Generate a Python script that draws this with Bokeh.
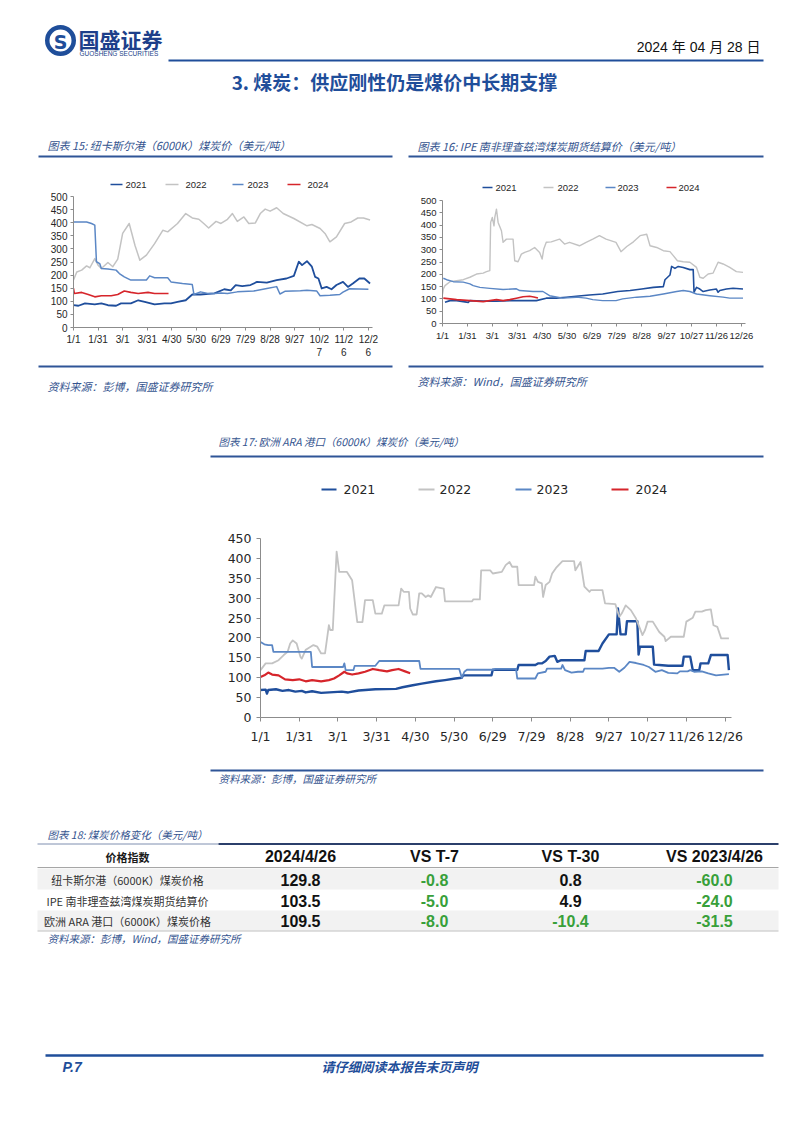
from bokeh.plotting import figure
from bokeh.layouts import column, row
from bokeh.models import Range1d, FixedTicker
from bokeh.core.properties import value
from bokeh.embed import file_html
from bokeh.resources import INLINE

# ---------------- data ----------------
years = ["2021", "2022", "2023", "2024"]
tick_days = [0, 30, 60, 90, 120, 150, 180, 210, 240, 270, 300, 330, 360]
tick_labels = ["1/1", "1/31", "3/1", "3/31", "4/30", "5/30", "6/29", "7/29",
               "8/28", "9/27", "10/27", "11/26", "12/26"]
tick_labels_wrapped = ["1/1", "1/31", "3/1", "3/31", "4/30", "5/30", "6/29", "7/29",
                       "8/28", "9/27", "10/2\n7", "11/2\n6", "12/2\n6"]

# Chart 15: Newcastle (6000K)
nc_days_2021 = [0, 6, 14, 26, 34, 42, 52, 58, 70, 79, 87, 99, 111, 119, 127, 137, 145, 155, 172, 184,
                192, 198, 206, 216, 224, 236, 248, 260, 269, 275, 279, 285, 291, 295, 299, 303, 309, 315,
                321, 329, 335, 341, 349, 355, 362]
nc_vals_2021 = [85, 83, 92, 88, 92, 85, 83, 92, 92, 104, 98, 88, 92, 92, 98, 104, 126, 126, 130, 146,
                142, 162, 158, 162, 174, 171, 181, 187, 197, 251, 238, 253, 232, 193, 187, 149, 155, 146,
                162, 174, 155, 168, 187, 187, 168]
nc_days_2022 = [0, 4, 10, 16, 20, 26, 30, 34, 42, 48, 54, 60, 68, 75, 81, 89, 99, 109, 115, 127,
                137, 145, 153, 159, 165, 174, 180, 188, 194, 200, 208, 214, 222, 228, 234, 240, 248, 256,
                269, 285, 291, 301, 307, 313, 321, 331, 339, 347, 354, 362]
nc_vals_2022 = [181, 212, 219, 235, 228, 263, 238, 225, 248, 232, 261, 359, 397, 314, 257, 276, 320, 371, 365, 397,
                435, 418, 413, 397, 380, 405, 397, 413, 435, 405, 422, 397, 399, 435, 452, 444, 457, 435,
                416, 388, 393, 378, 359, 327, 346, 397, 403, 418, 418, 410]
nc_days_2023 = [0, 16, 22, 26, 28, 32, 34, 42, 52, 56, 62, 70, 89, 93, 99, 115, 119, 133, 145, 147,
                155, 164, 172, 180, 188, 200, 220, 236, 248, 252, 258, 277, 285, 297, 301, 313, 325, 329, 337, 360]
nc_vals_2023 = [403, 403, 397, 391, 251, 244, 225, 223, 219, 206, 193, 181, 181, 197, 190, 190, 174, 168, 164, 126,
                136, 130, 130, 132, 130, 136, 139, 149, 156, 128, 138, 140, 142, 139, 121, 123, 126, 135, 148, 146]
nc_days_2024 = [0, 1, 10, 18, 26, 34, 46, 54, 62, 70, 79, 91, 99, 116]
nc_vals_2024 = [149, 130, 134, 126, 117, 121, 121, 126, 139, 134, 130, 134, 130, 130]

# Chart 16: IPE Richards Bay futures
ipe_days_2021 = [3, 9, 17, 31, 33, 49, 65, 81, 97, 113, 125, 137, 149, 161, 177, 193, 211, 226, 240, 254,
                 266, 268, 274, 276, 280, 284, 290, 298, 302, 303, 306, 310, 314, 322, 330, 332, 334, 342, 350, 362]
ipe_vals_2021 = [86, 93, 93, 86, 93, 91, 91, 93, 93, 93, 103, 103, 107, 111, 116, 120, 130, 134, 140, 147,
                 150, 178, 197, 232, 224, 232, 228, 219, 219, 127, 147, 140, 130, 136, 140, 127, 134, 140, 143, 140]
ipe_days_2022 = [0, 1, 3, 9, 17, 25, 33, 41, 49, 53, 57, 58, 60, 62, 63, 65, 67, 71, 73, 77, 85,
                 87, 91, 95, 99, 105, 111, 117, 120, 122, 125, 131, 141, 147, 153, 165, 173, 181, 189, 197, 209,
                 215, 222, 230, 238, 246, 250, 258, 266, 274, 278, 283, 290, 298, 306, 310, 314, 320, 326, 332, 338,
                 346, 354, 362]
ipe_vals_2022 = [118, 141, 154, 170, 174, 178, 188, 201, 205, 211, 215, 411, 431, 397, 431, 465, 411, 377, 330, 343, 343,
                 255, 251, 282, 289, 296, 309, 289, 262, 303, 330, 332, 343, 323, 330, 316, 330, 343, 357, 343, 330,
                 292, 313, 332, 357, 363, 316, 309, 296, 292, 276, 255, 251, 249, 228, 188, 184, 201, 205, 249, 242,
                 228, 211, 208]
ipe_days_2023 = [1, 5, 13, 25, 33, 37, 45, 57, 73, 89, 93, 109, 121, 129, 145, 161, 173, 181, 193, 209,
                 217, 234, 250, 266, 282, 290, 298, 306, 322, 338, 346, 362]
ipe_vals_2023 = [184, 178, 170, 168, 161, 154, 147, 143, 138, 141, 134, 130, 130, 113, 103, 107, 103, 97, 93, 93,
                 100, 107, 111, 120, 130, 134, 130, 120, 113, 107, 103, 103]
ipe_days_2024 = [1, 9, 17, 33, 49, 57, 65, 73, 81, 89, 97, 105, 110, 115]
ipe_vals_2024 = [103, 100, 97, 93, 89, 93, 97, 93, 97, 103, 109, 111, 108, 104]

# Chart 17: ARA (6000K)
ara_days_2021 = [0, 4, 5, 6, 12, 17, 22, 27, 32, 35, 40, 47, 63, 68, 76, 89, 105, 110, 118, 125,
                 136, 143, 151, 156, 157, 179, 180, 199, 200, 213, 215, 218, 221, 224, 228, 230, 233, 251, 252, 262,
                 265, 270, 276, 277, 279, 283, 284, 292, 293, 294, 304, 305, 309, 316, 327, 328, 333, 335, 340, 341,
                 347, 349, 362, 363]
ara_vals_2021 = [69, 70, 60, 69, 71, 67, 69, 65, 67, 63, 66, 62, 65, 63, 68, 71, 72, 76, 81, 85,
                 91, 94, 98, 100, 106, 106, 120, 120, 132, 132, 136, 136, 142, 153, 155, 140, 144, 144, 167, 167,
                 186, 209, 209, 274, 209, 209, 242, 242, 158, 178, 178, 133, 132, 130, 130, 153, 153, 119, 119, 136,
                 136, 157, 157, 119]
ara_days_2022 = [0, 4, 9, 14, 18, 21, 23, 25, 28, 31, 32, 35, 37, 41, 44, 47, 50, 53, 54, 56,
                 59, 61, 67, 71, 74, 75, 79, 81, 87, 89, 94, 96, 107, 109, 111, 115, 116, 118, 121, 123,
                 125, 128, 130, 132, 136, 142, 143, 164, 165, 170, 171, 178, 180, 187, 190, 193, 195, 199, 200, 212,
                 213, 215, 218, 219, 221, 224, 226, 229, 234, 243, 244, 248, 251, 255, 256, 265, 267, 275, 278, 280,
                 283, 287, 291, 294, 296, 298, 300, 304, 309, 313, 314, 318, 328, 330, 335, 337, 342, 345, 349, 351,
                 354, 357, 363]
ara_vals_2022 = [119, 136, 136, 144, 157, 165, 186, 194, 186, 152, 148, 170, 174, 182, 178, 161, 161, 232, 220, 220,
                 417, 366, 366, 345, 266, 240, 240, 295, 295, 261, 261, 282, 282, 324, 316, 316, 274, 259, 259, 312,
                 312, 303, 307, 303, 328, 324, 292, 292, 297, 297, 370, 370, 362, 366, 383, 391, 379, 379, 333, 333,
                 354, 341, 337, 303, 333, 341, 362, 376, 393, 393, 370, 391, 329, 316, 320, 320, 287, 285, 253, 262,
                 282, 270, 249, 224, 207, 220, 241, 241, 215, 203, 192, 203, 203, 241, 251, 266, 266, 270, 272, 232,
                 228, 199, 199]
ara_days_2023 = [0, 3, 6, 9, 10, 39, 40, 64, 65, 66, 72, 73, 89, 92, 123, 124, 154, 156, 158, 160,
                 180, 182, 198, 199, 213, 215, 221, 222, 233, 234, 236, 241, 246, 250, 251, 265, 270, 274, 278, 282,
                 286, 291, 297, 301, 306, 311, 316, 323, 325, 331, 333, 336, 342, 347, 353, 363]
ara_vals_2023 = [190, 184, 182, 182, 165, 165, 127, 127, 136, 119, 119, 130, 130, 142, 142, 122, 122, 100, 115, 120,
                 120, 122, 122, 98, 98, 111, 115, 123, 123, 132, 119, 113, 115, 115, 123, 123, 125, 125, 115, 125,
                 140, 137, 132, 127, 115, 119, 112, 111, 116, 116, 119, 115, 116, 111, 106, 109]
ara_days_2024 = [0, 3, 6, 9, 14, 19, 25, 30, 35, 40, 47, 53, 57, 61, 65, 67, 71, 76, 81, 87,
                 92, 98, 102, 107, 112, 116]
ara_vals_2024 = [102, 106, 113, 108, 106, 96, 94, 96, 91, 94, 91, 94, 98, 106, 115, 111, 108, 111, 115, 122,
                 119, 116, 119, 122, 116, 111]

# Table (chart 18)
table_header = ["价格指数", "2024/4/26", "VS T-7", "VS T-30", "VS 2023/4/26"]
table_names = ["纽卡斯尔港（6000K）煤炭价格", "IPE 南非理查兹湾煤炭期货结算价", "欧洲 ARA 港口（6000K）煤炭价格"]
price_latest = [129.8, 103.5, 109.5]
chg_t7 = [-0.8, -5.0, -8.0]
chg_t30 = [0.8, 4.9, -10.4]
chg_yoy = [-60.0, -24.0, -31.5]

# ---------------- styles ----------------
C21, C22, C23, C24 = "#1f4e9c", "#c3c3c3", "#5b87c5", "#d6252b"
YEAR_COLORS = [C21, C22, C23, C24]
NAVY = "#1f4e9a"
TITLE_C = "#34548f"
GREEN = "#38a03a"
CJK = "Noto Sans CJK SC"
LAT = "Liberation Sans"
PAGE_W = 802


def page_fig(y0, y1):
    p = figure(width=PAGE_W, height=y1 - y0, x_range=Range1d(0, PAGE_W), y_range=Range1d(y1, y0),
               toolbar_location=None, output_backend="svg", min_border=0,
               x_axis_location=None, y_axis_location=None)
    p.grid.visible = False
    p.outline_line_color = None
    return p


def put(p, x, y, s, size, color="#000000", font=CJK, style="normal", align="left"):
    p.text(x=[x], y=[y], text=[s], text_font=value(font), text_font_size=f"{size}px",
           text_font_style=style, text_color=color, text_align=align, text_baseline="middle")


def rule(p, x0, x1, y, w, color):
    p.segment(x0=[x0], y0=[y], x1=[x1], y1=[y], line_width=w, line_color=color)


def legend(p, y, line_xs, text_xs, size, font, lw):
    for yr, c, (a, b), tx in zip(years, YEAR_COLORS, line_xs, text_xs):
        p.segment(x0=[a], y0=[y], x1=[b], y1=[y], line_color=c, line_width=lw)
        put(p, tx, y, yr, size, color="#262626", font=font)


def chart(width, height, ymax, borders, labels, font, fsize, series, lw, tick_out, std_x, std_y):
    l, r, t, b = borders
    p = figure(width=width, height=height, x_range=Range1d(0, 365), y_range=Range1d(0, ymax),
               toolbar_location=None, output_backend="svg",
               min_border_left=l, min_border_right=r, min_border_top=t, min_border_bottom=b)
    p.outline_line_color = None
    p.grid.visible = False
    p.xaxis.ticker = FixedTicker(ticks=tick_days)
    p.xaxis.major_label_overrides = {d: s for d, s in zip(tick_days, labels)}
    p.yaxis.ticker = FixedTicker(ticks=list(range(0, ymax + 1, 50)))
    for ax, std in ((p.xaxis[0], std_x), (p.yaxis[0], std_y)):
        ax.axis_line_color = "#8c8c8c"
        ax.major_tick_line_color = "#8c8c8c"
        ax.major_tick_in = 0
        ax.major_tick_out = tick_out
        ax.minor_tick_line_color = None
        ax.major_label_text_font = font
        ax.major_label_text_font_size = f"{fsize}px"
        ax.major_label_text_color = "#262626"
        ax.major_label_standoff = std
    for (d, v), c, w in zip(series, YEAR_COLORS, lw):
        p.line(d, v, line_color=c, line_width=w, line_join="round")
    return p


# ---------------- top page band (y 0..192) ----------------
top = page_fig(0, 192)
top.annulus(x=[60], y=[40], inner_radius=11, outer_radius=15.5, fill_color=NAVY, line_color=None)
put(top, 60, 41, "S", 19, color=NAVY, font="DejaVu Sans", style="bold", align="center")
put(top, 78, 38, "国盛证券", 21, color="#1d3f8a", style="bold")
put(top, 79, 53, "GUOSHENG SECURITIES", 6.5, color="#1d3f8a", font=LAT)
put(top, 760, 46, "2024 年 04 月 28 日", 14, color="#111111", font=f"{LAT}, {CJK}", align="right")
rule(top, 168, 763, 60, 2, NAVY)
put(top, 394, 81, "3. 煤炭：供应刚性仍是煤价中长期支撑", 19, color=NAVY, style="bold", align="center")

put(top, 47, 144, "图表 15: 纽卡斯尔港（6000K）煤炭价（美元/吨）", 11, color=TITLE_C, style="italic")
rule(top, 38, 392, 156, 2, "#2f5597")
legend(top, 184, [(110, 122), (165, 178), (232, 243), (287, 300)], [125, 185, 247, 307], 9.5, LAT, 1.6)

put(top, 417, 145, "图表 16: IPE 南非理查兹湾煤炭期货结算价（美元/吨）", 11, color=TITLE_C, style="italic")
rule(top, 408, 763, 156, 2, "#2f5597")
legend(top, 187, [(482, 492), (543, 553), (605, 615), (666, 676)], [495, 557, 617, 678], 9.5, LAT, 1.6)

# ---------------- charts 15 & 16 (y 192..362) ----------------
c15 = chart(401, 170, 500, (73, 29, 4, 35), tick_labels_wrapped, LAT, 10,
            [(nc_days_2021, nc_vals_2021), (nc_days_2022, nc_vals_2022),
             (nc_days_2023, nc_vals_2023), (nc_days_2024, nc_vals_2024)],
            [1.8, 1.5, 1.5, 1.6], 3, 3, 3)
c16 = chart(401, 170, 500, (41, 57, 8, 39), tick_labels, LAT, 9.5,
            [(ipe_days_2021, ipe_vals_2021), (ipe_days_2022, ipe_vals_2022),
             (ipe_days_2023, ipe_vals_2023), (ipe_days_2024, ipe_vals_2024)],
            [1.6, 1.4, 1.4, 1.6], 3, 3, 3)

# ---------------- middle band (y 362..527) ----------------
mid = page_fig(362, 527)
rule(mid, 38, 392, 366, 2, "#2f5597")
put(mid, 47, 385, "资料来源：彭博，国盛证券研究所", 11, color=TITLE_C, style="italic")
rule(mid, 408, 763, 366, 2, "#2f5597")
put(mid, 417, 380, "资料来源：Wind，国盛证券研究所", 11, color=TITLE_C, style="italic")
put(mid, 218, 441, "图表 17: 欧洲 ARA 港口（6000K）煤炭价（美元/吨）", 10.5, color=TITLE_C, style="italic")
rule(mid, 210, 763, 456, 2, "#2f5597")
legend(mid, 489, [(321, 336), (418, 434), (515, 531), (611, 628)], [343, 439, 536, 635], 12.5, "DejaVu Sans", 2)

# ---------------- chart 17 (y 527..760) ----------------
c17 = chart(PAGE_W, 233, 450, (260, 71, 11, 43), tick_labels, "DejaVu Sans", 12.5,
            [(ara_days_2021, ara_vals_2021), (ara_days_2022, ara_vals_2022),
             (ara_days_2023, ara_vals_2023), (ara_days_2024, ara_vals_2024)],
            [2.4, 1.8, 1.8, 2.2], 4, 7, 5)

# ---------------- bottom band (y 760..1133) ----------------
bot = page_fig(760, 1133)
rule(bot, 210, 763, 770, 2, "#2f5597")
put(bot, 218, 778, "资料来源：彭博，国盛证券研究所", 10.5, color=TITLE_C, style="italic")

put(bot, 47, 834, "图表 18: 煤炭价格变化（美元/吨）", 10.5, color=TITLE_C, style="italic")
bot.quad(left=[37, 37], right=[778, 778], top=[868, 910], bottom=[889, 930],
         fill_color="#f2f2f2", line_color=None)
rule(bot, 37, 218, 843.5, 1, "#7f8fb0")
rule(bot, 218, 778, 843.5, 2.2, "#2b3f6b")
rule(bot, 37, 778, 867, 1, "#a6a6a6")
rule(bot, 37, 778, 930.5, 1, "#bfbfbf")

col_x = [127, 300, 434, 570, 714]
put(bot, col_x[0], 856, table_header[0], 11, color="#1a1a1a", style="bold", align="center")
for cx, h in zip(col_x[1:], table_header[1:]):
    put(bot, cx, 856, h, 16, color="#111111", font=LAT, style="bold", align="center")
row_y = [879, 900, 920]
for ry, name, a, b, c, d in zip(row_y, table_names, price_latest, chg_t7, chg_t30, chg_yoy):
    put(bot, col_x[0], ry, name, 11, color="#333333", align="center")
    for cx, v, signed in ((col_x[1], a, False), (col_x[2], b, True), (col_x[3], c, True), (col_x[4], d, True)):
        color = GREEN if (signed and v < 0) else "#111111"
        put(bot, cx, ry, f"{v:.1f}", 16, color=color, font=LAT, style="bold", align="center")
put(bot, 47, 938, "资料来源：彭博，Wind，国盛证券研究所", 10.5, color=TITLE_C, style="italic")

rule(bot, 45, 763, 1055, 2.5, NAVY)
put(bot, 62, 1066, "P.7", 14, color=NAVY, font=LAT, style="bold italic")
put(bot, 399, 1066, "请仔细阅读本报告末页声明", 13, color=NAVY, style="bold italic", align="center")

layout = column(row(top), row(column(c15), column(c16)), row(mid), row(c17), row(bot))
open("out.html", "w").write(file_html(layout, INLINE))
